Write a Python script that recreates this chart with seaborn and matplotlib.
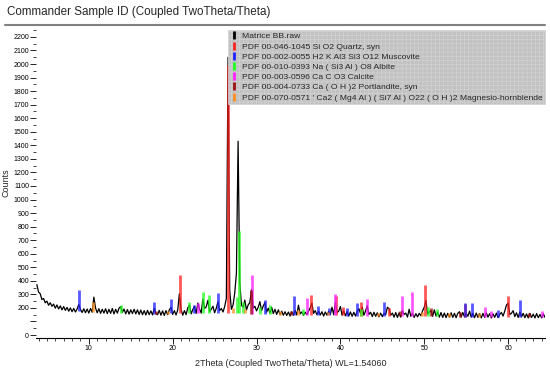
import matplotlib
matplotlib.use('Agg')
import matplotlib.pyplot as plt
from matplotlib.lines import Line2D
import seaborn as sns
import numpy as np
import pandas as pd

# measured scan (2theta from scan_start, step scan_step)
scan_start = 3.8
scan_step = 0.2
counts = [
    372, 318, 305, 262, 270, 238, 250, 220, 238, 212,
    228, 198, 222, 192, 215, 186, 210, 182, 204, 176,
    200, 172, 196, 170, 192, 225, 190, 166, 194, 164,
    192, 162, 196, 168, 280, 200, 164, 194, 160, 190,
    162, 194, 158, 190, 160, 196, 156, 190, 162, 198,
    210, 166, 192, 156, 188, 154, 186, 158, 190, 156,
    186, 152, 184, 150, 180, 148, 182, 150, 178, 148,
    198, 158, 150, 182, 146, 178, 144, 180, 150, 186,
    205, 152, 180, 148, 184, 305, 188, 146, 180, 150,
    200, 220, 156, 188, 212, 160, 236, 192, 162, 266,
    196, 208, 256, 172, 190, 212, 164, 198, 246, 180,
    196, 170, 210, 270, 2050, 330, 190, 222, 310, 455,
    1430, 390, 220, 205, 258, 184, 222, 240, 335, 198,
    212, 178, 205, 246, 180, 214, 240, 168, 198, 162,
    205, 158, 190, 152, 186, 150, 176, 146, 172, 144,
    170, 140, 172, 146, 182, 148, 220, 156, 170, 146,
    168, 150, 176, 200, 236, 160, 180, 150, 176, 148,
    172, 140, 170, 146, 174, 152, 205, 150, 240, 166,
    176, 210, 146, 178, 142, 174, 140, 170, 138, 168,
    140, 176, 195, 160, 206, 146, 178, 215, 152, 168,
    136, 168, 138, 164, 134, 162, 136, 160, 150, 205,
    195, 146, 162, 132, 166, 130, 164, 132, 180, 152,
    162, 132, 190, 138, 160, 130, 158, 134, 160, 142,
    178, 205, 255, 156, 170, 180, 138, 186, 140, 168,
    132, 166, 130, 162, 128, 160, 132, 164, 130, 160,
    128, 160, 172, 132, 166, 134, 162, 138, 176, 132,
    160, 128, 162, 130, 158, 126, 160, 130, 164, 132,
    158, 126, 156, 130, 162, 128, 152, 166, 140, 176,
    220, 236, 152, 160, 180, 136, 164, 130, 170, 134,
    160, 128, 156, 126, 160, 130, 154, 126, 158, 128,
    152, 126, 156, 130,
]

# rough background level, used as the foot of the reference sticks
bg_pos = [3.8, 4.5, 5, 6, 7, 8, 10, 14, 18, 22, 26, 30, 34, 38, 42, 46, 50, 54, 58, 64.4]
bg_counts = [370, 265, 232, 210, 195, 185, 178, 172, 166, 168, 172, 165, 155, 155, 150, 145, 148, 142, 140, 140]

# reference stick patterns: 2theta positions and heights (counts)
quartz_pos = [20.86, 26.64, 36.54, 39.46, 40.29, 42.45, 45.79, 50.14, 54.87, 59.96]
quartz_h = [440, 1990, 295, 290, 205, 245, 200, 370, 230, 285]
muscovite_pos = [8.84, 17.75, 19.75, 22.6, 25.45, 31.0, 34.5, 37.3, 38.7, 40.8, 42.0, 45.2, 54.9, 55.7, 58.8, 61.4]
muscovite_h = [330, 245, 265, 225, 310, 260, 285, 215, 200, 200, 235, 245, 235, 235, 185, 260]
albite_pos = [13.8, 22.0, 23.6, 24.3, 27.7, 27.9, 28.4, 30.4, 31.6, 35.6, 42.5, 50.4, 51.5]
albite_h = [220, 245, 320, 295, 280, 765, 245, 205, 220, 190, 195, 205, 190]
calcite_pos = [23.06, 29.4, 36.0, 39.4, 43.15, 47.3, 48.5, 57.2, 58.0, 64.0]
calcite_h = [235, 440, 270, 300, 268, 290, 320, 205, 180, 175]
portlandite_pos = [18.0, 29.3, 34.1, 47.1, 50.8, 54.3, 62.5]
portlandite_h = [175, 330, 180, 180, 200, 170, 160]
hornblende_pos = [10.5, 19.4, 27.2, 28.6, 32.8, 35.0, 38.5, 44.5, 49.7, 53.0, 56.5]
hornblende_h = [245, 175, 200, 190, 175, 185, 170, 165, 170, 160, 160]

legend_labels = [
    'Matrice BB.raw',
    'PDF 00-046-1045 Si O2 Quartz, syn',
    'PDF 00-002-0055 H2 K Al3 Si3 O12 Muscovite',
    'PDF 00-010-0393 Na ( Si3 Al ) O8 Albite',
    'PDF 00-003-0596 Ca C O3 Calcite',
    'PDF 00-004-0733 Ca ( O H )2 Portlandite, syn',
    "PDF 00-070-0571 ' Ca2 ( Mg4 Al ) ( Si7 Al ) O22 ( O H )2 Magnesio-hornblende",
]
colors = ['black', '#ff2020', '#2020ff', '#20ff20', '#ff20ff', '#a01010', '#ff9020']

sns.set_theme(style='white')
plt.rcParams['font.family'] = ['Liberation Sans', 'DejaVu Sans']
plt.rcParams['hatch.linewidth'] = 0.4

scan = pd.DataFrame({'two_theta': scan_start + scan_step * np.arange(len(counts)),
                     'counts': counts})

fig = plt.figure(figsize=(5.5, 3.72), dpi=100)
ax = fig.add_axes([36 / 550, 1 - 338 / 372, 509 / 550, 310 / 372])

sns.lineplot(data=scan, x='two_theta', y='counts', color='black', lw=0.9,
             ax=ax, zorder=2)

phases = [(quartz_pos, quartz_h), (muscovite_pos, muscovite_h), (albite_pos, albite_h),
          (calcite_pos, calcite_h), (portlandite_pos, portlandite_h),
          (hornblende_pos, hornblende_h)]
for (pos, h), c in zip(phases, colors[1:]):
    base = np.interp(pos, bg_pos, bg_counts) - 8
    ax.vlines(pos, base, h, color=c, lw=2.0, alpha=0.75, zorder=3)

ax.set_xlim(3.7, 64.4)
ax.set_ylim(-22, 2266)
ax.set_xticks(range(10, 61, 10))
ax.set_xticks(range(4, 65), minor=True)
ax.set_yticks(range(0, 2201, 100))
ax.set_yticklabels(['' if v == 100 else str(v) for v in range(0, 2201, 100)])
ax.set_yticks(range(50, 2251, 100), minor=True)
ax.tick_params(axis='both', which='major', labelsize=5, length=4, width=0.6,
               direction='out', pad=1, colors='black')
ax.tick_params(axis='both', which='minor', length=2, width=0.6, direction='out')
ax.tick_params(bottom=True, left=True, which='both')
for s in ['top', 'right', 'left']:
    ax.spines[s].set_visible(False)
ax.spines['bottom'].set_color('black')
ax.spines['bottom'].set_linewidth(0.8)

ax.set_xlabel('2Theta (Coupled TwoTheta/Theta) WL=1.54060', fontsize=6.5, labelpad=5)
ax.set_ylabel('Counts', fontsize=6.5)
ax.yaxis.set_label_coords(-0.05, 0.5)

handles = [Line2D([], [], ls='none', marker='|', markersize=6, markeredgewidth=2,
                  color=c) for c in colors]
leg = ax.legend(handles, legend_labels, loc='upper right', bbox_to_anchor=(1.0, 0.994),
                fontsize=6.1, frameon=True, fancybox=False, labelspacing=0.27,
                handlelength=0.7, handletextpad=0.6, borderpad=0.3, borderaxespad=0)
leg.set_zorder(5)
frame = leg.get_frame()
frame.set_facecolor('#c2c2c2')
frame.set_edgecolor('#d4d4d4')
frame.set_hatch('++++')
frame.set_linewidth(0.5)
frame.set_alpha(1)

fig.text(7 / 550, 1 - 12 / 372, 'Commander Sample ID (Coupled TwoTheta/Theta)',
         fontsize=8.4, va='center', ha='left')
fig.add_artist(Line2D([5 / 550, 545 / 550], [1 - 25 / 372, 1 - 25 / 372],
                      color='#808080', lw=1.5))

fig.savefig('out.png', dpi=100)
